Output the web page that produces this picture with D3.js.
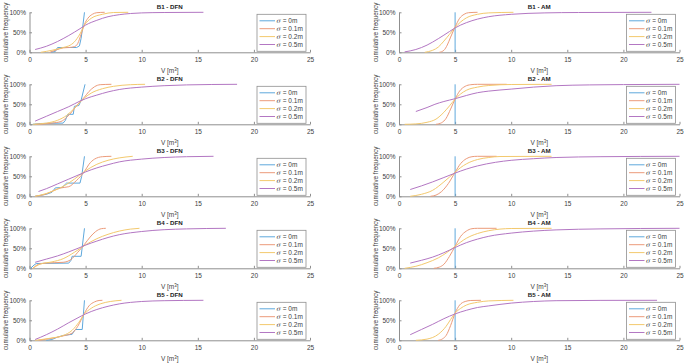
<!DOCTYPE html>
<html>
<head>
<meta charset="utf-8">
<script src="https://cdn.jsdelivr.net/npm/d3@7"></script>
<style>
  body { margin: 0; background: #fff; }
  svg { display: block; font-family: Arial, "Liberation Sans", sans-serif; }
  .axis path, .axis line { stroke: #8f8f8f; }
  .axis text { fill: #404040; font-size: 6.5px; }
</style>
</head>
<body>
<div id="chart"></div>
<script>
// categories
const boreholes = ["B1", "B2", "B3", "B4", "B5"];
const methods = ["DFN", "AM"];
const sigmas = ["0m", "0.1m", "0.2m", "0.5m"];
const xTicks = [0, 5, 10, 15, 20, 25];
const yTicks = [0, 50, 100];

// cumulative frequency curves, [V m3, %], one list per sigma (0, 0.1, 0.2, 0.5 m)
const B1_DFN = [
  [[1.9,0],[2.3,2],[2.5,12],[4.2,12],[4.45,16],[4.6,35],[4.75,65],[4.9,100]],
  [[1.8,0],[2.4,6],[3.0,11],[3.5,12],[4.0,14],[4.3,22],[4.6,45],[4.9,70],[5.2,85],[5.6,95],[6.0,99],[6.7,100]],
  [[1.0,0],[2.0,5],[3.0,12],[3.5,16],[4.0,26],[4.5,46],[4.9,68],[5.5,85],[6.5,95],[7.5,99.5],[8.8,100]],
  [[0.5,7],[1.5,15],[2.5,27],[3.5,42],[4.5,59],[5,68],[6,80],[7,89],[8,94],[9,97],[10,98.5],[12,99.5],[15.5,100]]
];
const B2_DFN = [
  [[0.3,0],[1.0,2],[3.0,3],[3.2,10],[3.4,25],[3.9,25],[4.0,45],[4.4,47],[4.6,60],[4.95,100]],
  [[0.5,0],[2.0,3],[2.8,7],[3.3,17],[3.8,32],[4.3,50],[4.9,68],[5.3,82],[5.8,94],[6.3,99],[7.3,100]],
  [[0.3,0],[1.5,3],[2.5,10],[3.3,22],[4.0,40],[4.9,66],[5.5,78],[6.5,89],[7.5,95],[9,99],[10.3,100]],
  [[0.5,8],[1.5,20],[2.5,32],[3.5,44],[4.5,58],[5,64],[6,73],[7,81],[8,87],[10,93],[12,96.5],[14,98.5],[18.5,100]]
];
const B3_DFN = [
  [[0.5,0],[1.5,5],[2.0,10],[2.3,21],[2.9,22],[3.3,33],[4.5,33],[4.65,50],[4.9,100]],
  [[0.5,0],[1.5,6],[2.2,15],[2.8,21],[3.5,24],[4.2,40],[4.9,62],[5.3,80],[5.8,93],[6.5,99],[7.3,100]],
  [[0.5,0],[1.5,7],[2.5,18],[3.2,28],[4.0,43],[4.9,62],[6,80],[7,90],[8,96],[9.2,100]],
  [[0.8,12],[1.5,19],[2.5,31],[3.5,43],[4.5,55],[5,61],[6,71],[7,79],[8,86],[10,93],[12,97],[14,99],[16.4,100]]
];
const B4_DFN = [
  [[0.1,0],[0.4,8],[0.6,12],[3.5,13],[3.7,20],[3.8,30],[4.6,30],[4.9,100]],
  [[0.3,0],[0.8,10],[1.5,13],[3.0,15],[3.7,22],[4.3,40],[4.9,60],[5.4,78],[5.9,92],[6.4,99],[6.8,100]],
  [[0.3,0],[1.0,11],[2.0,16],[3.0,24],[4.0,40],[4.9,57],[6,74],[7,85],[8,93],[9,98],[9.8,100]],
  [[0.5,15],[1.5,23],[2.5,31],[3.5,41],[4.5,52],[5,58],[6,68],[7,77],[8,84],[10,92],[12,96.5],[14,98.5],[17.5,100]]
];
const B5_DFN = [
  [[1.5,0],[2.0,2],[2.5,8],[3.0,12],[3.8,15],[4.0,24],[4.1,27],[4.7,27],[4.9,100]],
  [[0.8,0],[2.0,5],[3.0,11],[3.8,18],[4.3,35],[4.9,68],[5.3,86],[5.8,96],[6.2,99.5],[6.5,100]],
  [[0.5,0],[1.8,5],[3.0,12],[3.8,25],[4.4,45],[4.9,66],[5.5,80],[6.3,91],[7.2,97],[8.2,100]],
  [[0.5,2],[1.5,14],[2.5,28],[3.5,44],[4.5,59],[5,66],[6,77],[7,85],[8,91],[10,97],[12,99],[15.5,100]]
];
const B1_AM = [
  [[5,0],[5,100]],
  [[3.6,0],[4.0,5],[4.3,18],[4.6,38],[5,63],[5.4,85],[5.8,95],[6.2,99],[7.0,100]],
  [[2.3,0],[3.0,5],[3.5,13],[4.0,28],[4.5,45],[5,62],[5.5,76],[6,86],[7,95],[8,98.5],[10.2,100]],
  [[0.5,1],[1.5,7],[2.5,18],[3.5,34],[4.5,52],[5,61],[6,74],[7,83],[8,89],[10,95],[13,98.5],[16,99.5],[22.5,100]]
];
const B2_AM = [
  [[5,0],[5,100]],
  [[3.3,0],[3.8,4],[4.2,15],[4.6,38],[5,63],[5.4,83],[5.9,95],[6.4,99],[7,100],[9.6,100]],
  [[0.5,0],[1.5,1],[2.5,5],[3.3,13],[4.0,30],[4.5,46],[5,63],[5.5,76],[6,85],[7,93],[8,97],[10,99.5],[13.6,100]],
  [[1.5,32],[2.5,42],[3.2,50],[4,57],[5,64],[6,72],[7,79],[8,83],[10,88],[12,93],[14,96.5],[17,98.5],[20,99.3],[25,100]]
];
const B3_AM = [
  [[5,0],[5,100]],
  [[2.8,0],[3.3,3],[3.8,12],[4.4,32],[5,60],[5.5,82],[6,94],[6.5,99],[7,100],[8.7,100]],
  [[1.0,0],[2,5],[3,15],[4,36],[4.5,48],[5,60],[5.5,72],[6,81],[7,92],[8,97],[9,99.5],[13.6,100]],
  [[1.0,17],[2,26],[3,36],[4,47],[5,58],[6,68],[7,76],[8.6,85],[10,90],[12,94],[14,97],[18,99],[25,100]]
];
const B4_AM = [
  [[5,0],[5,100]],
  [[3.1,0],[3.6,3],[4.0,10],[4.5,30],[5,55],[5.5,80],[6,93],[6.5,99],[7,100],[8.7,100]],
  [[0.5,0],[1.5,5],[2.5,14],[3.5,26],[4.3,40],[5,55],[6,75],[7,87],[8,94],[9,98],[10,99.5],[13.6,100]],
  [[1.0,13],[2,20],[3,28],[4,39],[5,52],[6,64],[7,73],[8,80],[10,88],[12,93],[14,96],[18,98.5],[25,100]]
];
const B5_AM = [
  [[5,0],[5,100]],
  [[3.5,0],[3.9,4],[4.2,12],[4.6,37],[5,68],[5.4,88],[5.9,97],[6.4,99.5],[7.3,100]],
  [[1.5,0],[2.5,3],[3.5,15],[4.2,35],[4.6,52],[5,68],[5.5,80],[6,88],[7,95],[8,98.5],[10.2,100]],
  [[1.0,14],[2,27],[3,40],[4,54],[5,66],[6,75],[7,82],[8,86],[10,93],[12,97],[14,99],[18,99.8],[23,100]]
];

const curves = {
  DFN: [B1_DFN, B2_DFN, B3_DFN, B4_DFN, B5_DFN],
  AM: [B1_AM, B2_AM, B3_AM, B4_AM, B5_AM]
};

const W = 685, H = 364;
const colors = ["#5fa8dc", "#ec9b7a", "#f3c96e", "#b377c3"];
const plotLeft = { DFN: 29.5, AM: 399 };
const plotW = 280.5, plotH = 40;
const rowTop = i => 12.3 + 72 * i;

const svg = d3.select('#chart').append('svg')
  .attr('width', W)
  .attr('height', H);

const x = d3.scaleLinear().domain([0, 25]).range([0, plotW]);
const y = d3.scaleLinear().domain([0, 100]).range([plotH, 0]);

const smooth = d3.line().x(d => x(d[0])).y(d => y(d[1])).curve(d3.curveMonotoneX);
const steps = d3.line().x(d => x(d[0])).y(d => y(d[1]));

boreholes.forEach((b, i) => {
  methods.forEach(m => {
    const g = svg.append('g')
      .attr('transform', `translate(${plotLeft[m]}, ${rowTop(i)})`);

    // axes
    g.append('g')
      .attr('class', 'axis')
      .attr('transform', `translate(0, ${plotH})`)
      .call(d3.axisBottom(x).tickValues(xTicks).tickSizeInner(-2.5).tickSizeOuter(0).tickPadding(5));

    g.append('g')
      .attr('class', 'axis')
      .call(d3.axisLeft(y).tickValues(yTicks).tickFormat(d => d + '%').tickSizeInner(-2.5).tickSizeOuter(0).tickPadding(3.5));

    // curves
    curves[m][i].forEach((pts, k) => {
      g.append('path')
        .attr('d', k === 0 ? steps(pts) : smooth(pts))
        .attr('fill', 'none')
        .attr('stroke', colors[k])
        .attr('stroke-width', 1);
    });

    // title + labels
    g.append('text')
      .attr('x', plotW / 2)
      .attr('y', -3.5)
      .attr('text-anchor', 'middle')
      .attr('font-size', 6.2)
      .attr('font-weight', 'bold')
      .attr('fill', '#222')
      .text(`${b} - ${m}`);

    const xl = g.append('text')
      .attr('x', plotW / 2)
      .attr('y', plotH + 21)
      .attr('text-anchor', 'middle')
      .attr('font-size', 6.5)
      .attr('fill', '#404040');
    xl.append('tspan').text('V [m');
    xl.append('tspan').attr('font-size', 4.5).attr('dy', -2.5).text('3');
    xl.append('tspan').attr('dy', 2.5).text(']');

    g.append('text')
      .attr('transform', `translate(-21.5, ${plotH / 2}) rotate(-90)`)
      .attr('text-anchor', 'middle')
      .attr('font-size', 6.3)
      .attr('fill', '#404040')
      .text('cumulative frequency');

    // legend
    const lg = g.append('g')
      .attr('transform', `translate(${plotW - 53}, 2)`);
    lg.append('rect')
      .attr('width', 49)
      .attr('height', 37)
      .attr('fill', '#fff')
      .attr('stroke', '#8f8f8f')
      .attr('stroke-width', 0.8);
    sigmas.forEach((s, k) => {
      const ly = 6.5 + k * 7.9;
      lg.append('line')
        .attr('x1', 2.5).attr('x2', 18)
        .attr('y1', ly).attr('y2', ly)
        .attr('stroke', colors[k])
        .attr('stroke-width', 1);
      const t = lg.append('text')
        .attr('x', 19.5)
        .attr('y', ly + 2.2)
        .attr('font-size', 6.5)
        .attr('fill', '#404040');
      t.append('tspan').attr('font-style', 'italic').attr('font-family', 'DejaVu Serif, serif').text('σ');
      t.append('tspan').text(' = ' + s);
    });
  });
});
</script>
</body>
</html>
